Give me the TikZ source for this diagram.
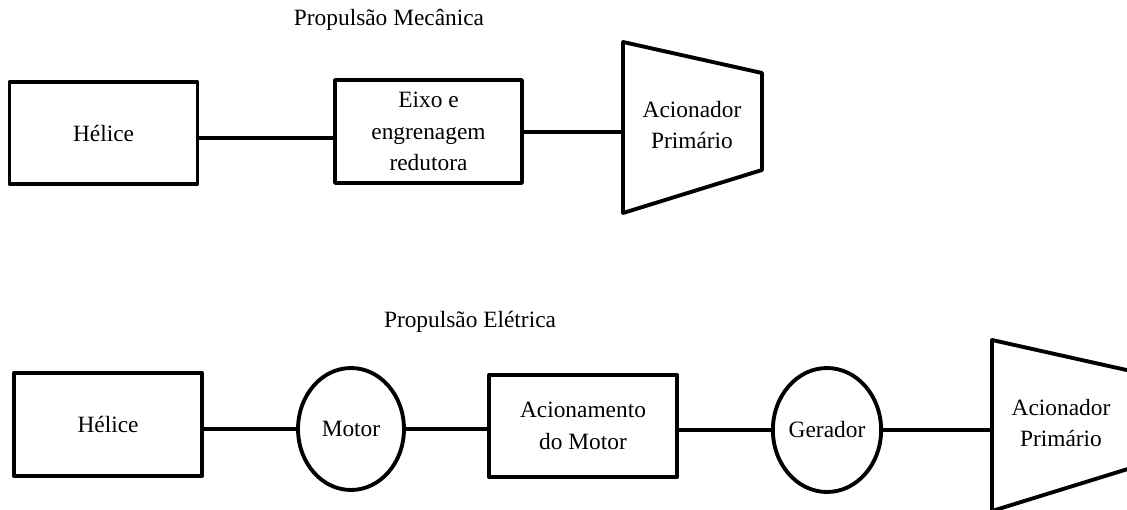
\documentclass[tikz,border=0pt]{standalone}
\usepackage{fontspec}
\setmainfont{Liberation Serif}
\usetikzlibrary{shapes.geometric}

\begin{document}
\begin{tikzpicture}[
  x=0.02cm, y=-0.02cm,
  line width=2.2pt, line join=round,
  every node/.style={font=\fontsize{13.3}{18}\selectfont},
  block/.style={rectangle, draw, align=center, inner sep=0pt, minimum width=3.76cm, minimum height=2.04cm},
  machine/.style={ellipse, draw, align=center, inner sep=0pt, minimum width=2.12cm, minimum height=2.44cm},
  label/.style={align=center, inner sep=0pt},
  link/.style={line width=2.2pt}
]
  \clip (0,0) rectangle (1127,510);
  % mechanical propulsion
  \node[label] (titlemech) at (389,20) {Propulsão Mecânica};
  \node[block] (helice1) at (103.5,133) {Hélice};
  \node[block, minimum width=3.74cm, minimum height=2.06cm] (gear) at (428.5,131.5) {Eixo e\\engrenagem\\redutora};
  \node[label] (prime1) at (692,125) {Acionador\\Primário};
  \draw (623,42) -- (762,73) -- (762,170) -- (623,213) -- cycle;
  \coordinate (prime1in) at (623,132);
  \draw[link] ([yshift=-0.1cm]helice1.east) -- ([yshift=-0.1cm]helice1.east -| gear.west);
  \draw[link] (gear.east |- prime1in) -- (prime1in);
  % electric propulsion
  \node[label] (titleelec) at (470,322) {Propulsão Elétrica};
  \node[block, minimum width=3.77cm, minimum height=2.06cm] (helice2) at (108,424.5) {Hélice};
  \node[machine] (motor) at (351,429) {Motor};
  \node[block, minimum width=3.77cm] (drive) at (583,426) {Acionamento\\do Motor};
  \node[machine, minimum width=2.1cm, minimum height=2.48cm] (gen) at (827,430) {Gerador};
  \node[label] (prime2) at (1061,423) {Acionador\\Primário};
  \draw (992,340) -- (1131,371) -- (1131,468) -- (992,511) -- cycle;
  \coordinate (prime2in) at (992,427);
  \draw[link] (helice2.east |- motor.west) -- (motor.west);
  \draw[link] (motor.east) -- (motor.east -| drive.west);
  \draw[link] (drive.east |- gen.west) -- (gen.west);
  \draw[link] (gen.east) -- (gen.east -| prime2in);
\end{tikzpicture}
\end{document}
